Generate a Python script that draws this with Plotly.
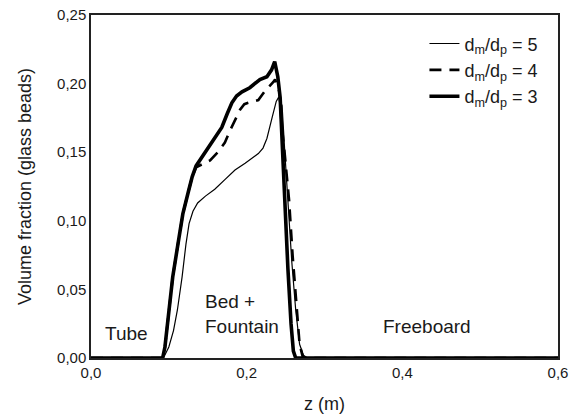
import plotly.graph_objects as go

# z (m) and volume fraction for each d_m/d_p ratio
z_r5 = [0.0, 0.093, 0.100, 0.106, 0.111, 0.117, 0.122, 0.126, 0.131, 0.137, 0.147,
        0.159, 0.172, 0.185, 0.198, 0.215, 0.221, 0.226, 0.233, 0.238, 0.241,
        0.2455, 0.249, 0.253, 0.258, 0.263, 0.268, 0.273, 0.278, 0.6]
v_r5 = [0.0, 0.0, 0.008, 0.020, 0.035, 0.059, 0.083, 0.098, 0.107, 0.113, 0.118,
        0.123, 0.130, 0.137, 0.142, 0.149, 0.153, 0.160, 0.176, 0.187, 0.190,
        0.184, 0.150, 0.115, 0.070, 0.035, 0.010, 0.002, 0.0, 0.0]

z_r4 = [0.0, 0.092, 0.095, 0.099, 0.105, 0.112, 0.118, 0.125, 0.130, 0.135, 0.142,
        0.153, 0.163, 0.172, 0.178, 0.184, 0.1915, 0.197, 0.202, 0.215, 0.220,
        0.224, 0.234, 0.2365, 0.242, 0.245, 0.249, 0.2545, 0.259, 0.264, 0.268,
        0.272, 0.275, 0.6]
v_r4 = [0.0, 0.0, 0.008, 0.028, 0.059, 0.084, 0.105, 0.121, 0.132, 0.139, 0.141,
        0.144, 0.150, 0.157, 0.165, 0.172, 0.181, 0.185, 0.186, 0.188, 0.192,
        0.195, 0.201, 0.203, 0.194, 0.170, 0.148, 0.115, 0.075, 0.035, 0.010,
        0.001, 0.0, 0.0]

z_r3 = [0.0, 0.092, 0.095, 0.099, 0.105, 0.112, 0.118, 0.125, 0.130, 0.135, 0.142,
        0.149, 0.158, 0.168, 0.175, 0.181, 0.187, 0.194, 0.204, 0.217, 0.226,
        0.232, 0.236, 0.240, 0.243, 0.246, 0.249, 0.253, 0.257, 0.260, 0.263, 0.6]
v_r3 = [0.0, 0.0, 0.008, 0.028, 0.059, 0.084, 0.105, 0.121, 0.132, 0.140, 0.146,
        0.152, 0.160, 0.168, 0.178, 0.186, 0.191, 0.194, 0.197, 0.203, 0.205,
        0.210, 0.216, 0.205, 0.190, 0.150, 0.110, 0.065, 0.025, 0.005, 0.0, 0.0]

names = ["d<sub>m</sub>/d<sub>p</sub> = 5",
         "d<sub>m</sub>/d<sub>p</sub> = 4",
         "d<sub>m</sub>/d<sub>p</sub> = 3"]

x_ticks = [0.0, 0.2, 0.4, 0.6]
y_ticks = [0.0, 0.05, 0.10, 0.15, 0.20, 0.25]

FONT = "Liberation Sans, Arial, sans-serif"
INK = "#1a1a1a"

fig = go.Figure()
fig.add_trace(go.Scatter(x=z_r5, y=v_r5, mode="lines", name=names[0],
                         line=dict(color="#000000", width=1.2)))
fig.add_trace(go.Scatter(x=z_r4, y=v_r4, mode="lines", name=names[1],
                         line=dict(color="#000000", width=2.6, dash="12px,8px")))
fig.add_trace(go.Scatter(x=z_r3, y=v_r3, mode="lines", name=names[2],
                         line=dict(color="#000000", width=3.6)))

ann_font = dict(size=19, color=INK, family=FONT)
fig.add_annotation(x=0.046, y=0.018, text="Tube", showarrow=False, font=ann_font)
fig.add_annotation(x=0.144, y=0.032, text="Bed +<br>Fountain", showarrow=False,
                   xanchor="left", align="left", font=ann_font)
fig.add_annotation(x=0.432, y=0.023, text="Freeboard", showarrow=False, font=ann_font)

axis_common = dict(showgrid=False, zeroline=False, showline=True, mirror=True,
                   linecolor="#222222", linewidth=1.5, ticks="",
                   tickfont=dict(size=15, color=INK, family=FONT))

fig.update_xaxes(range=[0, 0.6], tickvals=x_ticks, tickformat=".1f",
                 title=dict(text="z (m)", font=dict(size=18, color=INK, family=FONT),
                            standoff=22),
                 **axis_common)
fig.update_yaxes(range=[0, 0.25], tickvals=y_ticks, tickformat=".2f",
                 title=dict(text="Volume fraction (glass beads)",
                            font=dict(size=18, color=INK, family=FONT), standoff=21),
                 **axis_common)

fig.update_layout(
    width=570, height=414,
    margin=dict(l=91, r=12, t=15, b=56, autoexpand=False),
    paper_bgcolor="white", plot_bgcolor="white",
    separators=", ",
    font=dict(family=FONT, color=INK),
    showlegend=True,
    legend=dict(x=0.714, y=0.970, xanchor="left", yanchor="top",
                bgcolor="rgba(0,0,0,0)", borderwidth=0,
                font=dict(size=18, color=INK, family=FONT),
                tracegroupgap=0),
)

fig.write_html("out.html")
